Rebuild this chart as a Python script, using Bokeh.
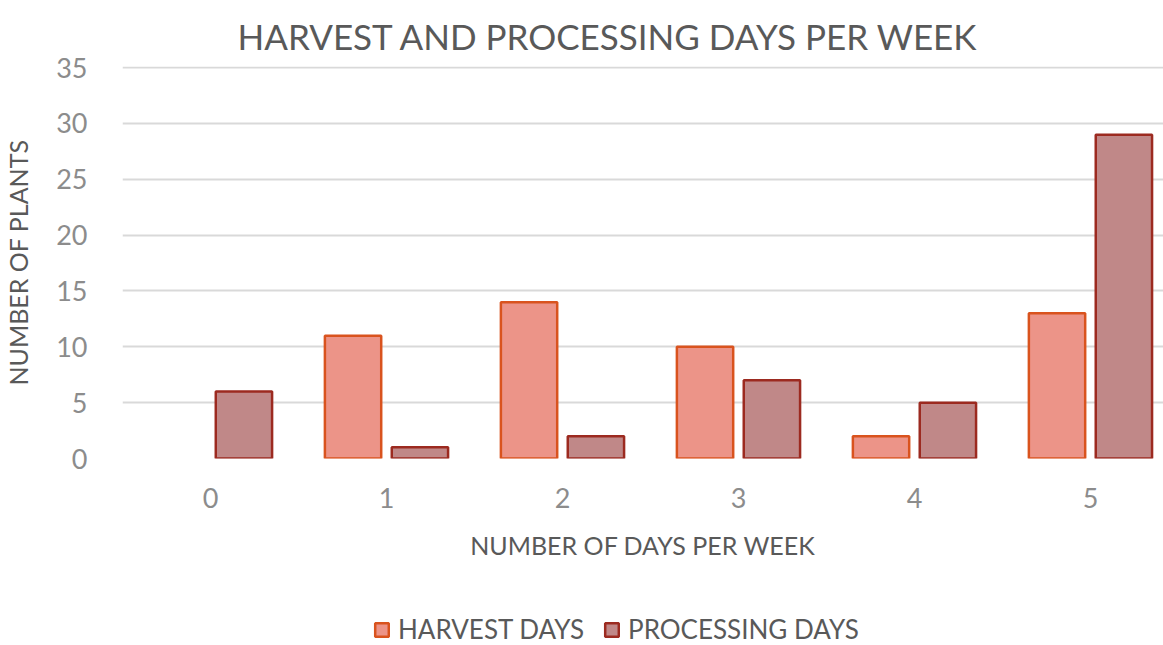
from bokeh.plotting import figure
from bokeh.layouts import column
from bokeh.models import ColumnDataSource, Range1d, Legend, LegendItem, FixedTicker
from bokeh.transform import dodge
from bokeh.embed import file_html
from bokeh.resources import INLINE

days = [0, 1, 2, 3, 4, 5]
harvest = [0, 11, 14, 10, 2, 13]
processing = [6, 1, 2, 7, 5, 29]
y_ticks = [0, 5, 10, 15, 20, 25, 30, 35]

title_text = "HARVEST AND PROCESSING DAYS PER WEEK"
x_label = "NUMBER OF DAYS PER WEEK"
y_label = "NUMBER OF PLANTS"
series_names = ["HARVEST DAYS", "PROCESSING DAYS"]

FONT = "Lato"
H_FILL, H_LINE = "#ec9488", "#d9531e"
P_FILL, P_LINE = "#c08888", "#9c2a20"

src = ColumnDataSource(dict(
    days=days,
    harvest=harvest,
    processing=processing,
    h_line_alpha=[0.0 if v == 0 else 1.0 for v in harvest],
    p_line_alpha=[0.0 if v == 0 else 1.0 for v in processing],
))

W = 1163
p = figure(width=W, height=590, output_backend="svg", toolbar_location=None,
           x_range=Range1d(-0.5, 5.415), y_range=Range1d(0, 35.1),
           min_border_left=122, min_border_right=0, min_border_top=66,
           min_border_bottom=132)
p.outline_line_color = None

p.vbar(x=dodge("days", -0.19), top="harvest", width=0.32, source=src,
       fill_color=H_FILL, line_color=H_LINE, line_width=2.5,
       line_alpha="h_line_alpha")
p.vbar(x=dodge("days", 0.19), top="processing", width=0.32, source=src,
       fill_color=P_FILL, line_color=P_LINE, line_width=2.5,
       line_alpha="p_line_alpha")

p.title.text = title_text
p.title.align = "left"
p.title.vertical_align = "top"
p.title.offset = 115
p.title.standoff = 16
p.title.text_font = FONT
p.title.text_font_size = "35px"
p.title.text_font_style = "normal"
p.title.text_color = "#595959"

p.xaxis.ticker = FixedTicker(ticks=days)
p.yaxis.ticker = FixedTicker(ticks=y_ticks)
for ax in (p.xaxis[0], p.yaxis[0]):
    ax.axis_line_color = None
    ax.major_tick_line_color = None
    ax.minor_tick_line_color = None
    ax.major_label_text_font = FONT
    ax.major_label_text_color = "#8c8c8c"
    ax.major_label_text_font_size = "27px"
    ax.axis_label_text_font = FONT
    ax.axis_label_text_font_style = "normal"
    ax.axis_label_text_color = "#595959"
    ax.axis_label_text_font_size = "25px"
p.xaxis.axis_label = x_label
p.yaxis.axis_label = y_label
p.xaxis.major_label_standoff = 23
p.yaxis.major_label_standoff = 29
p.xaxis.axis_label_standoff = 19
p.yaxis.axis_label_standoff = 20

p.xgrid.grid_line_color = None
p.ygrid.ticker = FixedTicker(ticks=y_ticks)
p.ygrid.grid_line_color = "#d9d9d9"
p.ygrid.grid_line_width = 2

# legend strip below the chart (legend-only renderers draw nothing)
lg = figure(width=W, height=55, output_backend="svg", toolbar_location=None,
            x_range=Range1d(0, 1), y_range=Range1d(0, 1),
            min_border_left=0, min_border_right=0, min_border_top=0,
            min_border_bottom=0)
lg.axis.visible = False
lg.grid.visible = False
lg.outline_line_color = None
nan = float("nan")
hr = lg.vbar(x=[nan], top=[nan], width=0.1, fill_color=H_FILL, line_color=H_LINE, line_width=2.5)
pr = lg.vbar(x=[nan], top=[nan], width=0.1, fill_color=P_FILL, line_color=P_LINE, line_width=2.5)
legend = Legend(items=[LegendItem(label=series_names[0], renderers=[hr]),
                       LegendItem(label=series_names[1], renderers=[pr])],
                orientation="horizontal", location=(251, 0),
                label_text_font=FONT, label_text_font_size="26px",
                label_text_color="#595959", glyph_width=17, glyph_height=17,
                padding=0, margin=0, spacing=19, label_standoff=8,
                border_line_color=None, background_fill_alpha=0)
lg.add_layout(legend, "center")

open("out.html", "w").write(file_html(column(p, lg, spacing=0), INLINE))
